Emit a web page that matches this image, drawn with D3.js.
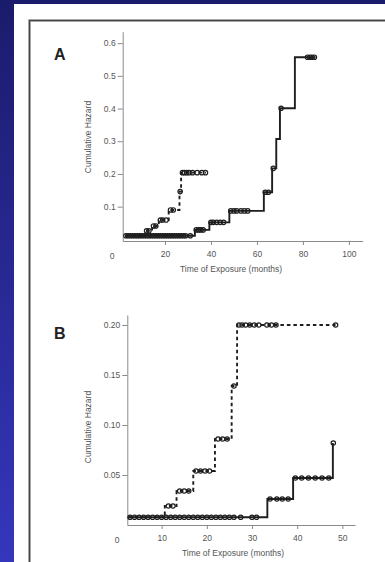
<!DOCTYPE html>
<html>
<head>
<meta charset="utf-8">
<script src="https://cdn.jsdelivr.net/npm/d3@7"></script>
<style>
	html, body { margin: 0; padding: 0; }
	body { width: 385px; height: 562px; overflow: hidden; }
	text { font-family: "Liberation Sans", Arial, sans-serif; }
</style>
</head>
<body>
<div id="chart"></div>
<script>
// Panel A data (time in months, cumulative hazard)
const aSolidTimes = [2.6, 33, 39.3, 48, 63, 66.6, 68.4, 70, 76.5, 85.5];
const aSolidHaz = [0.011, 0.029, 0.052, 0.087, 0.144, 0.217, 0.307, 0.401, 0.557, 0.557];
const aSolidCens = [3, 4, 5, 6, 7, 8, 9, 10, 11, 12, 13, 14, 15, 16, 17, 18, 19, 20, 21, 22, 23, 24, 25, 26, 27, 28, 29, 31,
	33.6, 34.6, 35.6, 36.6, 40, 41, 42.5, 44, 45.5, 48.6, 50, 51.2, 53, 54.5, 56, 63.6, 65, 67.1, 70.5, 82, 83, 84, 85];
const aDashTimes = [2.6, 11.3, 14.4, 17.3, 21.6, 26.3, 27.0, 37.8];
const aDashHaz = [0.011, 0.026, 0.041, 0.059, 0.090, 0.146, 0.204, 0.204];
const aDashCens = [12, 13, 15, 16, 18, 19, 20.5, 22.4, 23.6, 26.6, 27.6, 28.5, 29.5, 30.5, 32, 34, 36, 37.6];
const aXTicks = [20, 40, 60, 80, 100];
const aYTicks = [0.1, 0.2, 0.3, 0.4, 0.5, 0.6];

// Panel B data
const bSolidTimes = [2.6, 33.4, 39.1, 47.9, 47.9];
const bSolidHaz = [0.0077, 0.026, 0.047, 0.082, 0.082];
const bSolidCens = [3, 4, 5, 6, 7, 8, 9, 10, 11, 12, 13, 14, 15, 16, 17, 18, 19, 20, 21, 22, 23, 24, 25, 26, 27.5, 30, 31,
	34, 35.5, 36.7, 38, 39.6, 41, 42.5, 44, 45.5, 47, 48];
const bDashTimes = [2.6, 10.7, 13.3, 17, 21.8, 25.5, 26.7, 48.5];
const bDashHaz = [0.0077, 0.019, 0.034, 0.054, 0.086, 0.139, 0.2, 0.2];
const bDashCens = [11.5, 12.5, 14, 15, 16, 17.6, 18.6, 19.6, 20.6, 22.5, 23.5, 24.5, 26, 27.1, 27.8, 28.6, 29.5, 30.5, 31.5,
	33.3, 34.3, 35.3, 48.5];
const bXTicks = [10, 20, 30, 40, 50];
const bYTicks = [0.05, 0.10, 0.15, 0.20];

const W = 385, H = 562;

const svg = d3.select("#chart").append("svg")
	.attr("width", W)
	.attr("height", H);

// Background
const defs = svg.append("defs");
const grad = defs.append("linearGradient")
	.attr("id", "bg")
	.attr("x1", 0).attr("y1", 0).attr("x2", 0).attr("y2", 1);
grad.append("stop").attr("offset", "0%").attr("stop-color", "#1b1b6c");
grad.append("stop").attr("offset", "100%").attr("stop-color", "#3636bd");

svg.append("rect").attr("width", W).attr("height", H).attr("fill", "url(#bg)");
svg.append("rect").attr("x", 14).attr("y", 4).attr("width", W - 14).attr("height", H - 4).attr("fill", "#fff");
svg.append("rect")
	.attr("x", 29.5).attr("y", 20.5).attr("width", W).attr("height", H)
	.attr("fill", "none").attr("stroke", "#c8c8c8").attr("stroke-width", 3);
svg.append("rect")
	.attr("x", 29.5).attr("y", 20.5).attr("width", W).attr("height", H)
	.attr("fill", "none").attr("stroke", "#444").attr("stroke-width", 1.5);

function hazAt(times, haz, t) {
	let v = haz[0];
	for (let i = 0; i < times.length; i++) {
		if (times[i] <= t) v = haz[i];
	}
	return v;
}

function drawPanel(p) {
	const x = d3.scaleLinear().domain(p.xDomain).range(p.xRange);
	const y = d3.scaleLinear().domain(p.yDomain).range(p.yRange);
	const g = svg.append("g");

	// Axes
	const xAxis = g.append("g")
		.attr("transform", "translate(0," + p.yRange[0] + ")")
		.call(d3.axisBottom(x).tickValues(p.xTicks).tickSize(4).tickPadding(6).tickSizeOuter(0));
	const yAxis = g.append("g")
		.attr("transform", "translate(" + p.xRange[0] + ",0)")
		.call(d3.axisLeft(y).tickValues(p.yTicks).tickFormat(p.yFormat).tickSize(5).tickPadding(2).tickSizeOuter(0));
	for (let ax of [xAxis, yAxis]) {
		ax.select(".domain").attr("stroke", "#8a8a8a").attr("stroke-width", 1);
		ax.selectAll(".tick line").attr("stroke", "#8a8a8a");
		ax.selectAll(".tick text")
			.attr("fill", "#555")
			.style("font-size", "8.5px")
			.style("font-family", "'Liberation Sans', Arial, sans-serif");
	}

	// lone "0" at the corner
	g.append("text")
		.attr("x", p.zeroX)
		.attr("y", p.yRange[0] + 18)
		.attr("text-anchor", "middle")
		.attr("fill", "#555")
		.style("font-size", "8.5px")
		.text("0");

	// Labels
	g.append("text")
		.attr("x", 54).attr("y", p.letterY)
		.style("font-size", "16px").style("font-weight", 700)
		.attr("fill", "#222")
		.text(p.letter);
	g.append("text")
		.attr("transform", "translate(" + 91 + "," + p.yTitleY + ") rotate(-90)")
		.attr("text-anchor", "middle")
		.attr("fill", "#555")
		.style("font-size", "8.5px")
		.text("Cumulative Hazard");
	g.append("text")
		.attr("x", p.xTitleX).attr("y", p.yRange[0] + 31)
		.attr("text-anchor", "middle")
		.attr("fill", "#555")
		.style("font-size", "8.5px")
		.text("Time of Exposure (months)");

	const line = d3.line()
		.x(d => x(d[0]))
		.y(d => y(d[1]))
		.curve(d3.curveStepAfter);

	for (let s of p.series) {
		const pts = s.times.map((t, i) => [t, s.haz[i]]);
		g.append("path")
			.datum(pts)
			.attr("fill", "none")
			.attr("stroke", "#1e1e1e")
			.attr("stroke-width", 1.9)
			.attr("stroke-dasharray", s.dash ? "3.5,3" : null)
			.attr("d", line);
		g.selectAll(null)
			.data(s.cens)
			.enter()
			.append("circle")
			.attr("cx", t => x(t))
			.attr("cy", t => y(hazAt(s.times, s.haz, t)))
			.attr("r", 2.2)
			.attr("fill", "none")
			.attr("stroke", "#1e1e1e")
			.attr("stroke-width", 1.2);
	}
}

drawPanel({
	letter: "A", letterY: 60,
	xDomain: [1.6, 106], xRange: [122.7, 362.7],
	yDomain: [-0.005, 0.635], yRange: [241, 31.7],
	xTicks: aXTicks, yTicks: aYTicks, yFormat: d3.format(".1f"),
	zeroX: 112, yTitleY: 137, xTitleX: 231,
	series: [
		{times: aSolidTimes, haz: aSolidHaz, cens: aSolidCens, dash: false},
		{times: aDashTimes, haz: aDashHaz, cens: aDashCens, dash: true}
	]
});

drawPanel({
	letter: "B", letterY: 339,
	xDomain: [2.4, 52.8], xRange: [127.3, 355],
	yDomain: [0, 0.21], yRange: [525, 315],
	xTicks: bXTicks, yTicks: bYTicks, yFormat: d3.format(".2f"),
	zeroX: 117, yTitleY: 427, xTitleX: 233,
	series: [
		{times: bSolidTimes, haz: bSolidHaz, cens: bSolidCens, dash: false},
		{times: bDashTimes, haz: bDashHaz, cens: bDashCens, dash: true}
	]
});
</script>
</body>
</html>
